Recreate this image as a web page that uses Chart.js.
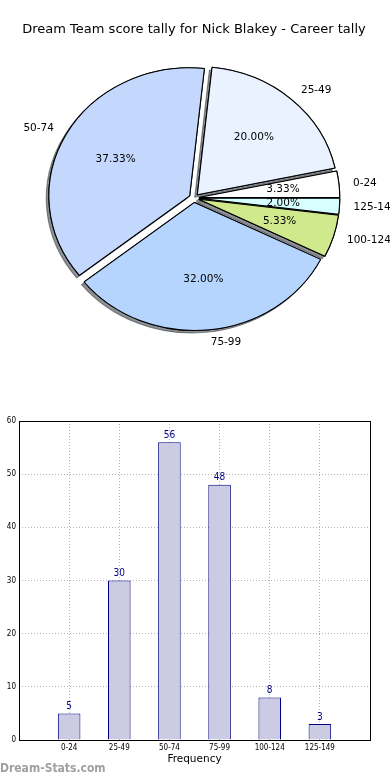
<!DOCTYPE html>
<html>
<head>
<meta charset="utf-8">
<script src="https://cdn.jsdelivr.net/npm/chart.js@4.4.1/dist/chart.umd.min.js"></script>
<style>
  body { margin: 0; background: #fff; width: 390px; height: 780px; position: relative; overflow: hidden; }
  #pieBox { position: absolute; left: 0; top: 0; width: 390px; height: 400px; }
  #barBox { position: absolute; left: 0; top: 400px; width: 390px; height: 380px; }
  #brand { position: absolute; left: 0; top: 761px; font: bold 12px "DejaVu Sans Condensed", "DejaVu Sans", sans-serif; color: #a0a0a0; }
</style>
</head>
<body>
<div id="pieBox"><canvas id="pie" width="390" height="400"></canvas></div>
<div id="barBox"><canvas id="bar" width="390" height="380"></canvas></div>
<div id="brand">Dream-Stats.com</div>
<script>
// ---- data ----
const chartTitle = 'Dream Team score tally for Nick Blakey - Career tally';
const scoreBands = ['0-24', '25-49', '50-74', '75-99', '100-124', '125-149'];
const bandCounts = [5, 30, 56, 48, 8, 3];
const yTicks = [0, 10, 20, 30, 40, 50, 60];

const sliceColors = ['#ffffff', '#eaf2ff', '#c4d8fe', '#b5d5fe', '#cfe98c', '#d8ffff'];
const EXPLODE = 4.5;   // px each slice is pushed out
const STRETCH = 1.1;   // pie is a bit wider than tall
const SHADOW = 2.6;

const total = bandCounts.reduce((a, b) => a + b, 0);

///////////////////////////////////////////// Pie /////////////////////////////////////////////

// chart.js goes clockwise, the original goes counter-clockwise from 3 o'clock -> reverse
const pieLabels = scoreBands.slice().reverse();
const pieCounts = bandCounts.slice().reverse();
const pieColors = sliceColors.slice().reverse();

const piePainter = {
    id: 'piePainter',
    beforeDatasetDraw(chart, args) {
        const ctx = chart.ctx;
        const arcs = args.meta.data;
        const cx = arcs[0].x, cy = arcs[0].y;
        ctx.save();
        ctx.translate(cx, cy);
        ctx.scale(STRETCH, 1);
        ctx.translate(-cx, -cy);
        ['shadow', 'face'].forEach(pass => {
            arcs.forEach(arc => {
                const mid = (arc.startAngle + arc.endAngle) / 2;
                ctx.save();
                ctx.translate(Math.cos(mid) * EXPLODE, Math.sin(mid) * EXPLODE);
                if (pass === 'shadow') {
                    ctx.shadowColor = 'rgba(50,54,62,0.55)';
                    ctx.shadowOffsetX = -SHADOW;
                    ctx.shadowOffsetY = SHADOW;
                }
                arc.draw(ctx);
                ctx.restore();
            });
        });
        ctx.restore();
        return false;
    },
    afterDatasetsDraw(chart) {
        const ctx = chart.ctx;
        const arcs = chart.getDatasetMeta(0).data;
        const values = chart.data.datasets[0].data;
        ctx.save();
        ctx.font = '10.5px "DejaVu Sans", sans-serif';
        ctx.fillStyle = '#000';
        ctx.textBaseline = 'middle';
        arcs.forEach((arc, i) => {
            const mid = (arc.startAngle + arc.endAngle) / 2;
            const c = Math.cos(mid), s = Math.sin(mid);
            const r = arc.outerRadius;
            const bx = arc.x + STRETCH * EXPLODE * c, by = arc.y + EXPLODE * s;
            ctx.textAlign = c >= 0 ? 'left' : 'right';
            ctx.fillText(chart.data.labels[i], bx + STRETCH * 1.1 * r * c, by + 1.1 * r * s);
            ctx.textAlign = 'center';
            const pct = (values[i] / total * 100).toFixed(2) + '%';
            ctx.fillText(pct, bx + STRETCH * 0.6 * r * c, by + 0.6 * r * s);
        });
        ctx.restore();
    }
};

new Chart(document.getElementById('pie'), {
    type: 'pie',
    data: {
        labels: pieLabels,
        datasets: [{
            data: pieCounts,
            backgroundColor: pieColors,
            borderColor: '#000',
            borderWidth: 1,
            hoverBorderWidth: 1,
            offset: 0,
            hoverOffset: 0
        }]
    },
    options: {
        responsive: false,
        animation: false,
        events: [],
        rotation: 90,
        layout: { padding: { left: 0, right: 2, top: 0, bottom: 73.5 } },
        plugins: {
            legend: { display: false },
            tooltip: { enabled: false },
            title: {
                display: true,
                text: chartTitle,
                color: '#000',
                font: { family: '"DejaVu Sans", sans-serif', size: 13, weight: 'normal' },
                padding: { top: 22, bottom: 31.9 }
            }
        }
    },
    plugins: [piePainter]
});

///////////////////////////////////////////// Bars /////////////////////////////////////////////

const tickFont = { family: '"DejaVu Sans Condensed", "DejaVu Sans", sans-serif', size: 8 };
const dotted = { color: '#b4b4b4', lineWidth: 1, drawTicks: false, offset: false };

const barExtras = {
    id: 'barExtras',
    afterDraw(chart) {
        const ctx = chart.ctx;
        const a = chart.chartArea;
        ctx.save();
        // value labels
        ctx.font = '10px "DejaVu Sans Condensed", "DejaVu Sans", sans-serif';
        ctx.fillStyle = '#000080';
        ctx.textAlign = 'center';
        ctx.textBaseline = 'bottom';
        const vals = chart.data.datasets[0].data;
        chart.getDatasetMeta(0).data.forEach((bar, i) => {
            if (vals[i] == null) return;
            ctx.fillText(String(vals[i]), bar.x, bar.y - 2);
        });
        // frame
        ctx.strokeStyle = '#000';
        ctx.lineWidth = 1;
        ctx.strokeRect(Math.round(a.left) + 0.5, Math.round(a.top) + 0.5,
                       Math.round(a.right - a.left), Math.round(a.bottom - a.top));
        ctx.restore();
    }
};

new Chart(document.getElementById('bar'), {
    type: 'bar',
    data: {
        labels: [''].concat(scoreBands, ['']),
        datasets: [{
            data: [null].concat(bandCounts, [null]),
            backgroundColor: '#cbcbe3',
            borderColor: '#000080',
            borderWidth: 1,
            barPercentage: 0.45,
            categoryPercentage: 1
        }]
    },
    options: {
        responsive: false,
        animation: false,
        events: [],
        layout: { padding: { left: 0, right: 20, top: 21, bottom: 0 } },
        plugins: { legend: { display: false }, tooltip: { enabled: false } },
        scales: {
            x: {
                offset: false,
                z: 1,
                grid: dotted,
                border: { display: false, dash: [1, 2] },
                ticks: { font: tickFont, color: '#000', padding: 3, maxRotation: 0, autoSkip: false },
                title: {
                    display: true,
                    text: 'Frequency',
                    color: '#000',
                    font: { family: '"DejaVu Sans", sans-serif', size: 10.5 },
                    padding: { top: 0, bottom: 14 }
                },
                afterFit: scale => { scale.height = 40; }
            },
            y: {
                min: yTicks[0],
                max: yTicks[yTicks.length - 1],
                z: 1,
                grid: dotted,
                border: { display: false, dash: [1, 2] },
                ticks: { stepSize: yTicks[1] - yTicks[0], font: tickFont, color: '#000', padding: 3 },
                afterFit: scale => { scale.width = 19; }
            }
        }
    },
    plugins: [barExtras]
});
</script>
</body>
</html>
